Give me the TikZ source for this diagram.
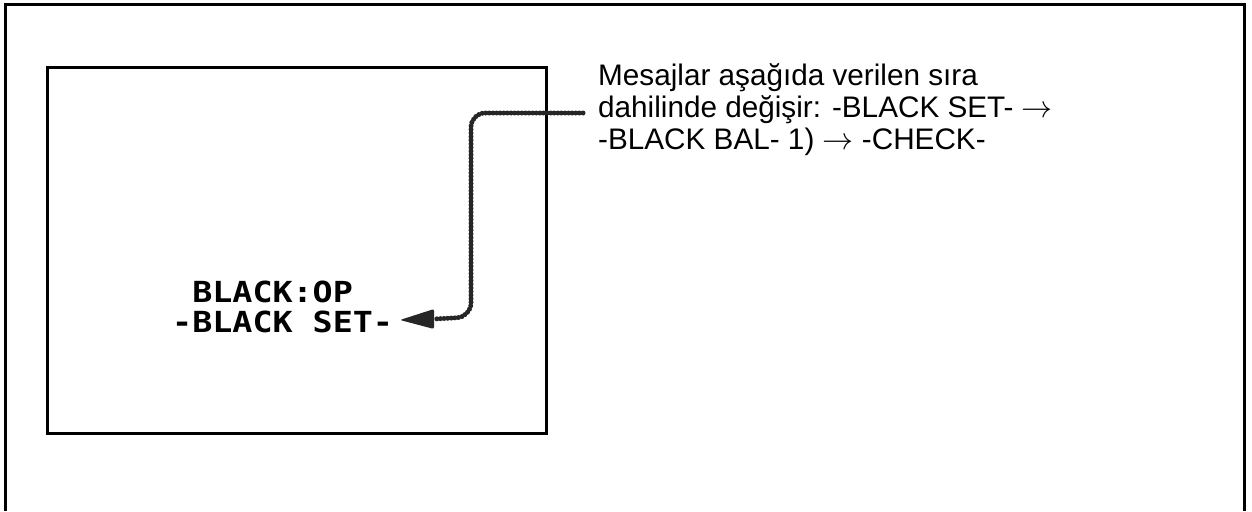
\documentclass[tikz,border=0pt]{standalone}
\usepackage{fontspec}
\setmainfont{Liberation Sans}
\newfontfamily\lcdfont{DejaVu Sans Mono}
\newcommand{\bigarrow}{\resizebox{31pt}{!}{$\rightarrow$}}
\begin{document}
\begin{tikzpicture}[x=1pt,y=-1pt,
  frame/.style={line width=3pt},
  screen/.style={line width=2.5pt},
  msg/.style={anchor=base west,inner sep=0pt,align=left,
    font=\fontsize{29.7}{32}\selectfont},
  lcd/.style={anchor=base west,inner sep=0pt,font=\lcdfont\bfseries\fontsize{29}{30}\selectfont},
  beads/.style={line width=5pt,line cap=round,rounded corners=14pt,
    dash pattern=on 0pt off 3.6pt,black!85},
  tiphead/.style={fill=black!85}]
\useasboundingbox (0,0) rectangle (1252,511);
% outer frame (open at the bottom)
\draw[frame] (5,511) -- (5,5) -- (1244,5) -- (1244,511);
% screen
\node[screen,draw,minimum width=499pt,minimum height=366pt,anchor=north west,inner sep=0pt] (scr) at (46,66) {};
% screen text
\node[lcd] (l1) at (172,302) {\scalebox{1.15}[1]{\phantom{-}BLACK:OP}};
\node[lcd] (l2) at (172,332) {\scalebox{1.15}[1]{-BLACK SET-}};
% message (base = baseline of the last line)
\node[msg] (msgtext) at (598,149) {Mesajlar aşağıda verilen sıra\\
dahilinde değişir: -BLACK SET- \bigarrow\\
-BLACK BAL- 1) \bigarrow{} -CHECK-};
% connector
\coordinate (src) at (583,113);
\coordinate (base) at (434,319);
\coordinate (tip) at (400,320);
\draw[beads] (src) -- (471,113) -- (471,317) -- (base);
\fill[tiphead,rounded corners=2pt] (tip) -- ([yshift=-10pt]base) -- ([yshift=10pt]base) -- cycle;
\end{tikzpicture}
\end{document}
